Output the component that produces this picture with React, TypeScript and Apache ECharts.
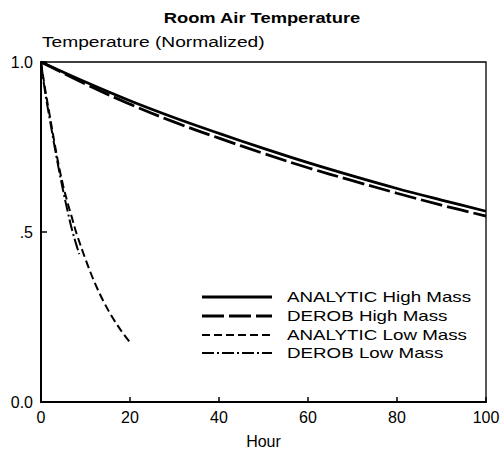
import React, { useEffect, useRef } from "react";
import * as echarts from "echarts";

const title = "Room Air Temperature";
const yAxisTitle = "Temperature (Normalized)";
const xAxisTitle = "Hour";

const seriesNames = [
  "ANALYTIC High Mass",
  "DEROB High Mass",
  "ANALYTIC Low Mass",
  "DEROB Low Mass",
];

const highHours = [0, 10, 20, 30, 40, 50, 60, 70, 80, 90, 100];
const analyticHigh = [1.0, 0.941, 0.886, 0.836, 0.79, 0.746, 0.704, 0.665, 0.628, 0.594, 0.561];
const derobHigh = [1.0, 0.935, 0.876, 0.823, 0.776, 0.731, 0.689, 0.651, 0.614, 0.579, 0.547];

const analyticLowHours = [0, 1, 2, 3, 4, 5, 6, 7, 8, 10, 12, 14, 16, 18, 20];
const analyticLow = [1.0, 0.915, 0.84, 0.765, 0.695, 0.635, 0.585, 0.54, 0.495, 0.42, 0.353, 0.297, 0.25, 0.21, 0.175];

const derobLowHours = [0, 1, 2, 3, 4, 5, 6, 7, 8, 8.6];
const derobLow = [1.0, 0.905, 0.83, 0.755, 0.685, 0.62, 0.56, 0.505, 0.46, 0.435];

const xTicks = [0, 20, 40, 60, 80, 100];
const yTickLabels: Record<string, string> = { "0": "0.0", "0.5": ".5", "1": "1.0" };

const pairs = (xs: number[], ys: number[]) => xs.map((x, i) => [x, ys[i]]);

const FONT = "'Liberation Sans', Arial, Helvetica, sans-serif";

const lineStyles: any[] = [
  { width: 2.8, type: "solid" },
  { width: 2.8, type: [22, 5] },
  { width: 2, type: [8, 4] },
  { width: 2, type: [12, 3, 2, 3] },
];

export default function App() {
  const ref = useRef<HTMLDivElement>(null);
  useEffect(() => {
    if (!ref.current) return;
    const chart = echarts.init(ref.current, undefined, { renderer: "svg" });
    const legendX1 = 202;
    const legendX2 = 272;
    const legendTextX = 287;
    const legendRows = [297, 316, 335, 353];
    const legendGraphics: any[] = [];
    seriesNames.forEach((name, i) => {
      const ls = lineStyles[i];
      legendGraphics.push({
        type: "line",
        shape: { x1: legendX1, y1: legendRows[i], x2: legendX2, y2: legendRows[i] },
        style: {
          stroke: "#000",
          lineWidth: ls.width,
          lineDash: ls.type === "solid" ? null : ls.type,
        },
        silent: true,
      });
      legendGraphics.push({
        type: "text",
        x: legendTextX,
        y: legendRows[i],
        scaleX: 1.34,
        style: {
          text: name,
          font: `14px ${FONT}`,
          fill: "#000",
          textAlign: "left",
          textVerticalAlign: "middle",
        },
        silent: true,
      });
    });

    const data = [
      pairs(highHours, analyticHigh),
      pairs(highHours, derobHigh),
      pairs(analyticLowHours, analyticLow),
      pairs(derobLowHours, derobLow),
    ];

    chart.setOption({
      animation: false,
      backgroundColor: "#fff",
      grid: {
        left: 41,
        right: 17,
        top: 62,
        bottom: 50,
        show: true,
        borderColor: "#000",
        borderWidth: 1.3,
      },
      xAxis: {
        type: "value",
        min: 0,
        max: 100,
        interval: 20,
        name: xAxisTitle,
        nameLocation: "middle",
        nameGap: 31,
        nameTextStyle: { fontFamily: FONT, fontSize: 16, color: "#000" },
        axisLine: { show: true, onZero: false, lineStyle: { color: "#000", width: 2 } },
        axisTick: { show: true, inside: true, length: 5, lineStyle: { color: "#000", width: 1.5 } },
        axisLabel: {
          fontFamily: FONT,
          fontSize: 16,
          color: "#000",
          margin: 7,
          formatter: (v: number) => (xTicks.includes(v) ? String(v) : ""),
        },
        splitLine: { show: false },
      },
      yAxis: {
        type: "value",
        min: 0,
        max: 1,
        interval: 0.5,
        axisLine: { show: true, onZero: false, lineStyle: { color: "#000", width: 2 } },
        axisTick: { show: true, inside: true, length: 6, lineStyle: { color: "#000", width: 1.5 } },
        axisLabel: {
          fontFamily: FONT,
          fontSize: 16,
          color: "#000",
          margin: 8,
          formatter: (v: number) => yTickLabels[String(v)] ?? "",
        },
        splitLine: { show: false },
      },
      graphic: [
        {
          type: "text",
          x: 262,
          y: 18,
          scaleX: 1.31,
          style: {
            text: title,
            font: `bold 14px ${FONT}`,
            fill: "#000",
            textAlign: "center",
            textVerticalAlign: "middle",
          },
          silent: true,
        },
        {
          type: "text",
          x: 42,
          y: 42,
          scaleX: 1.37,
          style: {
            text: yAxisTitle,
            font: `14px ${FONT}`,
            fill: "#000",
            textAlign: "left",
            textVerticalAlign: "middle",
          },
          silent: true,
        },
        ...legendGraphics,
      ],
      series: seriesNames.map((name, i) => ({
        name,
        type: "line",
        data: data[i],
        symbol: "none",
        showSymbol: false,
        smooth: 0.35,
        lineStyle: { color: "#000", width: lineStyles[i].width, type: lineStyles[i].type },
        z: 3,
      })),
    });
    return () => chart.dispose();
  }, []);
  return (
    <div
      ref={ref}
      style={{ position: "fixed", left: 0, top: 0, width: 503, height: 454, background: "#fff" }}
    />
  );
}
